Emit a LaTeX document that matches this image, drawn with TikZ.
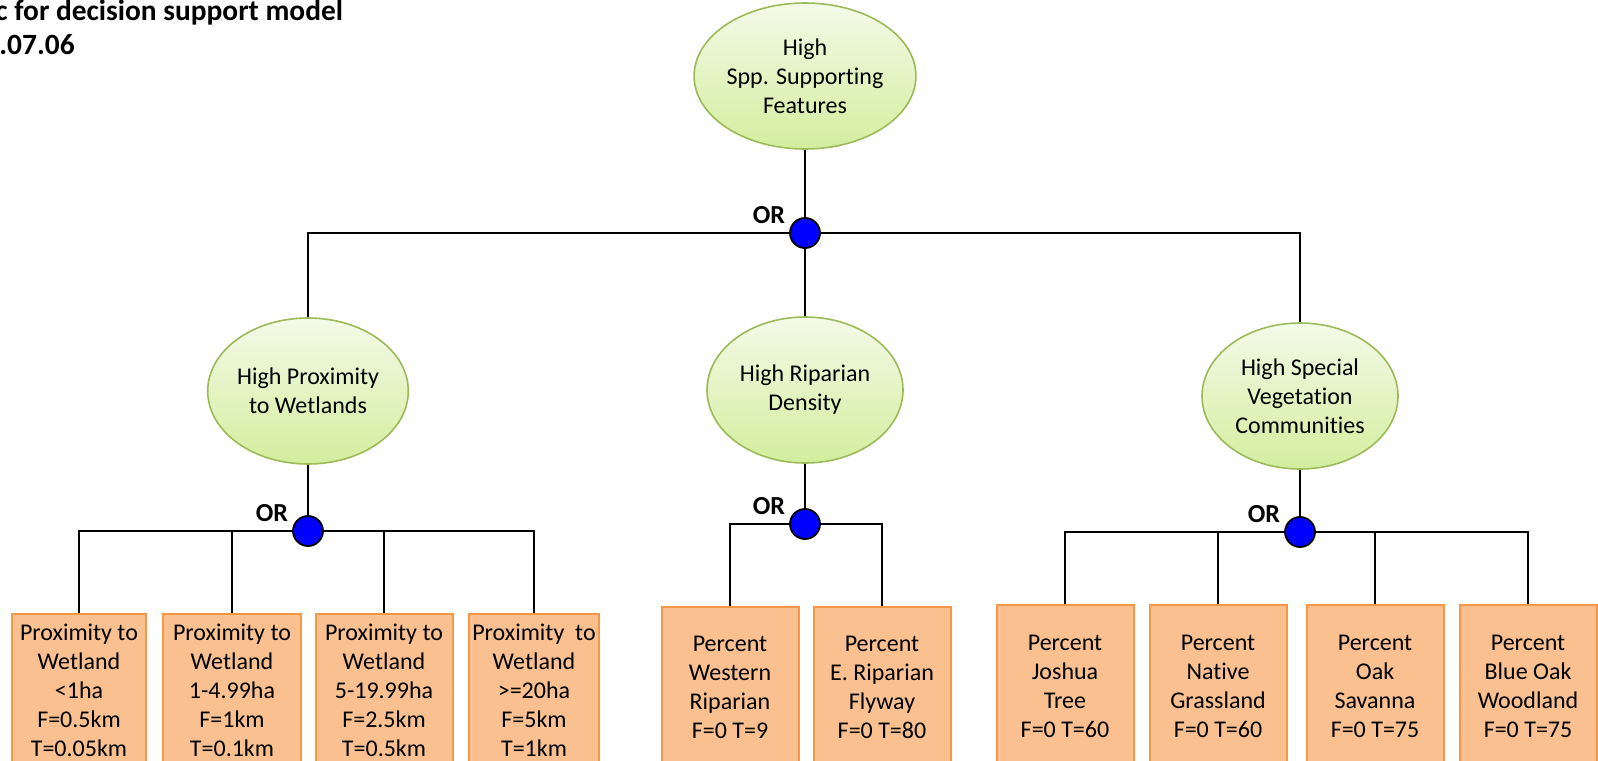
\documentclass[tikz,border=0pt]{standalone}
\usepackage{fontspec}
\setmainfont{Carlito}[Ligatures=NoCommon]
\usepackage{tikz}
\usetikzlibrary{shapes, positioning, calc}

\definecolor{goaltop}{HTML}{F4FAE8}
\definecolor{goalbot}{HTML}{D3EE9E}
\definecolor{goaledge}{HTML}{9BBB59}
\definecolor{leaffill}{HTML}{FAC090}
\definecolor{leafedge}{HTML}{F79646}

\tikzset{
  goal/.style={ellipse, draw=goaledge, line width=0.8pt, top color=goaltop, bottom color=goalbot,
    minimum width=98pt, minimum height=73pt, inner sep=0pt, align=center,
    font=\fontsize{12}{14.5}\selectfont},
  orgate/.style={circle, draw=black, fill=blue, line width=0.9pt, minimum size=15pt, inner sep=0pt},
  orlabel/.style={font=\fontsize{13}{15}\selectfont\bfseries, inner sep=0pt},
  leaf/.style={rectangle, draw=leafedge, fill=leaffill, line width=1pt, anchor=north, align=center,
    inner sep=1pt, font=\fontsize{12}{14.5}\selectfont},
  link/.style={draw=black, line width=0.9pt}
}

\begin{document}
\begin{tikzpicture}[x=0.5pt, y=-0.5pt]
\useasboundingbox (0,0) rectangle (1598,760);

%//title, cut at the left edge
\node[anchor=base west, inner sep=0pt, font=\fontsize{14.7}{17}\selectfont\bfseries] (title1) at (-5,20) {c for decision support model};
\node[anchor=base west, inner sep=0pt, font=\fontsize{14.7}{17}\selectfont\bfseries] (title2) at (-1,54) {.07.06};

%//goals
\node[goal] (spp) at (805,76) {High\\Spp. Supporting\\Features};
\node[goal] (prox) at (308,391) {High Proximity\\to Wetlands};
\node[goal] (ripa) at (805,390) {High Riparian\\Density};
\node[goal] (vege) at (1300,396) {High Special\\Vegetation\\Communities};

%//or gates
\foreach \g/\x/\y in {orspp/805/233, orprox/308/531, orripa/805/524, orvege/1300/532}
{
\node[orgate] (\g) at (\x,\y) {};
\node[orlabel] (\g-l) at ($(\g)+(-36,-18)$) {OR};
}

\draw[link] (spp) -- (orspp);
\draw[link] (orspp) -| (prox);
\draw[link] (orspp) -- (ripa);
\draw[link] (orspp) -| (vege);
\draw[link] (prox) -- (orprox);
\draw[link] (ripa) -- (orripa);
\draw[link] (vege) -- (orvege);

%//leaves
\foreach \n/\x/\w/\txt in {p1/79/67pt/{Proximity to\\Wetland\\<1ha\\F=0.5km\\T=0.05km},
  p2/232/69pt/{Proximity to\\Wetland\\1-4.99ha\\F=1km\\T=0.1km},
  p3/384/68.5pt/{Proximity to\\Wetland\\5-19.99ha\\F=2.5km\\T=0.5km},
  p4/534/65pt/{Proximity\ \ to\\Wetland\\>=20ha\\F=5km\\T=1km}}
{
\node[leaf, minimum width=\w, minimum height=76.5pt] (\n) at (\x,613) {\txt};
\draw[link] (orprox) -| (\n);
}

\foreach \n/\x/\txt in {r1/730/{Percent\\Western\\Riparian\\F=0 T=9},
  r2/882/{Percent\\E. Riparian\\Flyway\\F=0 T=80}}
{
\node[leaf, minimum width=68.5pt, minimum height=80pt] (\n) at (\x,606) {\txt};
\draw[link] (orripa) -| (\n);
}

\foreach \n/\x/\txt in {v1/1065/{Percent\\Joshua\\Tree\\F=0 T=60},
  v2/1218/{Percent\\Native\\Grassland\\F=0 T=60},
  v3/1375/{Percent\\Oak\\Savanna\\F=0 T=75},
  v4/1528/{Percent\\Blue Oak\\Woodland\\F=0 T=75}}
{
\node[leaf, minimum width=68.5pt, minimum height=81pt] (\n) at (\x,604) {\txt};
\draw[link] (orvege) -| (\n);
}
\end{tikzpicture}
\end{document}
